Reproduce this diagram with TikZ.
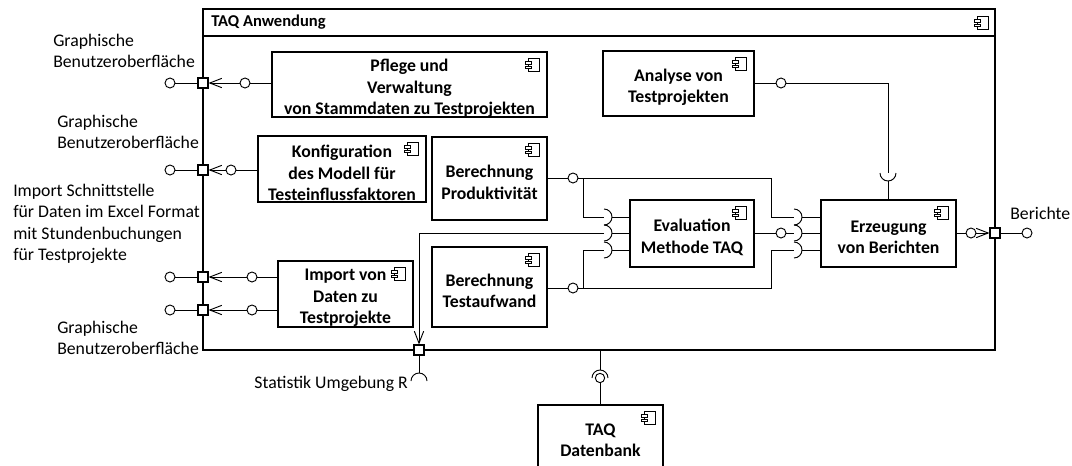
\documentclass[tikz,border=0pt]{standalone}
\usepackage{fontspec}
\setmainfont{Carlito}
\usetikzlibrary{arrows.meta,calc,fit}

\begin{document}
\begin{tikzpicture}[x=0.75pt,y=-0.75pt,
  every node/.style={font=\fontsize{13.3}{16}\selectfont},
  comp/.style={draw, line width=0.8pt, inner sep=0pt},
  ctext/.style={align=center, inner sep=0pt, yshift=-3pt,
    font=\fontsize{13.3}{16}\selectfont\bfseries},
  txt/.style={label={[ctext]center:{#1}}},
  port/.style={draw, fill=white, line width=0.8pt, minimum size=7.5pt, inner sep=0pt},
  ball/.style={draw, fill=white, circle, line width=0.7pt, minimum size=7.5pt, inner sep=0pt},
  wire/.style={line width=0.7pt},
  deleg/.style={wire, -{Straight Barb[length=9pt,width=7pt,line width=0.7pt]}},
  lbl/.style={align=left, anchor=west, inner sep=0pt},
  compicon/.pic={
    \draw[line width=0.6pt, fill=white] (-11,0) rectangle (0,13);
    \draw[line width=0.6pt, fill=white] (-14,3) rectangle (-8,5.5);
    \draw[line width=0.6pt, fill=white] (-14,7.5) rectangle (-8,10);
  },
  sockL/.pic={\draw[wire] (0,-8) arc[start angle=90,end angle=-90,radius=6pt];},
  sockD/.pic={\draw[wire] (-8,0) arc[start angle=180,end angle=0,radius=6pt];},
  sockU/.pic={\draw[wire] (-8,0) arc[start angle=180,end angle=360,radius=6pt];}
]
\useasboundingbox (0,0) rectangle (1072,465);

% enclosing component
\node[draw, line width=0.8pt, inner sep=0pt, fit={(203,9) (995,350)}] (app) {};
\coordinate (tl) at (203,36);
\draw[line width=0.8pt] (tl) -- (tl -| app.east);
\node[anchor=west, font=\fontsize{12.4}{15}\selectfont\bfseries, inner sep=0pt] (title) at (211,22) {TAQ Anwendung};
\pic at ($(app.north east)+(-7,8)$) {compicon};

% inner components
\node[comp, fit={(272,52) (547,117)}, txt={Pflege und\\Verwaltung\\von Stammdaten zu Testprojekten}] (pflege) {};
\node[comp, fit={(258,136) (426,202)}, txt={Konfiguration\\des Modell für\\Testeinflussfaktoren}] (konf) {};
\node[comp, fit={(278,261) (413,327)}, txt={Import von\\Daten zu\\Testprojekte}] (imp) {};
\node[comp, fit={(603,51) (754,116)}, txt={Analyse von\\Testprojekten}] (ana) {};
\node[comp, fit={(432,137) (547,220)}, txt={Berechnung\\Produktivität}] (prod) {};
\node[comp, fit={(432,247) (547,327)}, txt={Berechnung\\Testaufwand}] (aufw) {};
\node[comp, fit={(630,200) (754,267)}, txt={Evaluation\\Methode TAQ}] (eval) {};
\node[comp, fit={(821,200) (956,267)}, txt={Erzeugung\\von Berichten}] (erz) {};
\node[comp, fit={(538,405) (663,468)}, txt={TAQ\\Datenbank}] (db) {};

\foreach \c in {pflege,konf,imp,ana,prod,aufw,eval,erz,db}
  \pic at ($(\c.north east)+(-8,7)$) {compicon};

% left ports with delegation
\foreach \n/\y/\ix/\cb in {1/83/245/pflege, 2/170/231/konf, 3/277/252/imp, 4/310/252/imp}{
  \node[port] (p\n) at (203,\y) {};
  \node[ball] (o\n) at (170,\y) {};
  \node[ball] (i\n) at (\ix,\y) {};
  \draw[wire] (o\n) -- (p\n);
  \draw[deleg] (i\n) -- (p\n);
  \draw[wire] (i\n -| \cb.west) -- (i\n);
}

% left labels
\node[lbl] (l1) at (53,51) {Graphische\\Benutzeroberfläche};
\node[lbl] (l2) at (57,132) {Graphische\\Benutzeroberfläche};
\node[lbl] (l3) at (13,224) {Import Schnittstelle\\für Daten im Excel Format\\mit Stundenbuchungen\\für Testprojekte};
\node[lbl] (l4) at (57,338) {Graphische\\Benutzeroberfläche};

% sockets of the evaluation and report components
\coordinate (es1) at (604,217);
\coordinate (es2) at (604,233);
\coordinate (es3) at (604,250);
\coordinate (rs1) at (794,217);
\coordinate (rs2) at (794,233);
\coordinate (rs3) at (794,250);
\foreach \s in {es1,es2,es3}{
  \pic at (\s) {sockL};
  \draw[wire] ([xshift=6pt]\s) -- (\s -| eval.west);
}
\foreach \s in {rs1,rs2,rs3}{
  \pic at (\s) {sockL};
  \draw[wire] ([xshift=6pt]\s) -- (\s -| erz.west);
}

% productivity output
\node[ball] (pb) at (573,178) {};
\draw[wire] (pb -| prod.east) -- (pb);
\draw[wire] (pb) -- (771,178) |- (rs1);
\coordinate (pj) at (583,178);
\draw[wire] (pj) |- (es1);

% effort output
\node[ball] (tb) at (573,288) {};
\draw[wire] (tb -| aufw.east) -- (tb);
\draw[wire] (tb) -- (771,288) |- (rs3);
\coordinate (tj) at (583,288);
\draw[wire] (tj) |- (es3);

% evaluation output
\node[ball] (eb) at (781,233) {};
\draw[wire] (eb -| eval.east) -- (eb);
\draw[wire] (eb) -- (rs2);

% statistics environment R
\node[port] (pR) at (419,350) {};
\draw[deleg] (es2) -| (pR);
\coordinate (sR) at (419,381);
\pic at (sR) {sockD};
\draw[wire] (pR) -- ([yshift=6pt]sR);
\node[anchor=east, inner sep=0pt] (lR) at (408,384) {Statistik Umgebung R};

% analysis output
\node[ball] (ab) at (781,83) {};
\draw[wire] (ab -| ana.east) -- (ab);
\coordinate (as) at (888,173);
\draw[wire] (ab) -| (as);
\pic at (as) {sockU};
\draw[wire] ([yshift=-6pt]as) -- (as |- erz.north);

% reports
\node[ball] (rb) at (971,233) {};
\draw[wire] (rb -| erz.east) -- (rb);
\node[port] (pB) at (995,233) {};
\draw[deleg] (rb) -- (pB);
\node[ball] (bB) at (1027,233) {};
\draw[wire] (pB) -- (bB);
\node[anchor=west, inner sep=0pt] (lB) at (1010,213) {Berichte};

% database
\coordinate (sD) at (600,378);
\pic at (sD) {sockD};
\draw[wire] (sD |- app.south) -- ([yshift=6pt]sD);
\node[ball, minimum size=7pt] (dB) at (sD) {};
\draw[wire] (dB) -- (dB |- db.north);
\end{tikzpicture}
\end{document}
